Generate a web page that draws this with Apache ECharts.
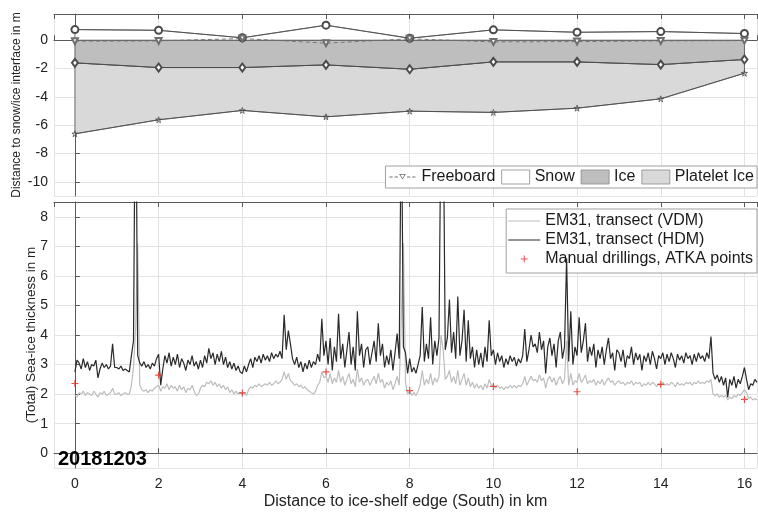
<!DOCTYPE html>
<html><head><meta charset="utf-8">
<script src="https://cdn.jsdelivr.net/npm/echarts@6/dist/echarts.min.js"></script>
<style>html,body{margin:0;padding:0;background:#fff}#c{width:758px;height:513px}</style>
</head><body><div id="c"></div><script>
// ---------- DATA ----------
// ATKA drilling points (km)
const atkaKm = [0, 2, 4, 6, 8, 10, 12, 14, 16];
// Top panel: distances to snow/ice interface (m)
const snowTop = [0.75, 0.70, 0.17, 1.06, 0.14, 0.73, 0.56, 0.61, 0.47];
const freeboard = [-0.07, -0.05, 0.12, -0.21, 0.10, -0.12, -0.10, -0.05, -0.03];
const iceSurface = [0, 0, 0, 0, 0, 0, 0, 0, 0];
const iceBottom = [-1.60, -1.93, -1.93, -1.74, -2.05, -1.53, -1.53, -1.72, -1.36];
const plateletBottom = [-6.61, -5.62, -4.96, -5.41, -5.01, -5.10, -4.80, -4.14, -2.33];
// Bottom panel: manual drillings (total thickness, m)
const drillThickness = [2.36, 2.64, 2.04, 2.75, 2.12, 2.26, 2.08, 2.33, 1.82];
// EM31 transect, sampled every 0.05 km starting at 0 km
const emStartKm = 0;
const emStepKm = 0.05;
const em31HDM = [
  2.75, 3.15, 3.05, 2.85, 3.2, 2.9, 3.1, 2.8, 3.0, 2.95, 3.15, 2.55, 2.85, 3.05, 2.9, 3.0, 2.85, 2.95, 3.7, 2.9,
  2.9, 2.85, 2.95, 2.8, 2.85, 2.8, 2.75, 3.3, 3.8, 14, 3.3, 3.05, 2.95, 3.1, 2.9, 3.0, 2.85, 3.05, 2.95, 3.2,
  3.35, 2.3, 2.85, 3.3, 3.05, 3.4, 2.95, 3.25, 3.0, 3.35, 2.9, 3.2, 3.05, 2.8, 3.15, 3.0, 3.3, 2.95, 3.1, 2.85,
  3.15, 2.9, 3.3, 3.05, 3.55, 3.2, 3.4, 3.0, 3.35, 3.1, 3.45, 3.0, 3.25, 2.9, 3.1, 2.85, 3.05, 2.8, 2.95, 2.75,
  2.7, 2.95, 2.75, 3.0, 3.2, 2.9, 3.25, 3.1, 3.3, 3.05, 3.35, 3.15, 3.3, 3.1, 3.4, 3.2, 3.35, 3.25, 3.45, 3.2,
  4.68, 3.5, 4.15, 3.7, 3.2, 3.0, 3.25, 2.9, 3.1, 2.75, 3.05, 2.85, 3.15, 2.9, 3.1, 3.0, 3.35, 3.1, 4.55, 3.3,
  3.8, 3.0, 3.9, 2.8, 3.6, 3.1, 4.72, 3.2, 3.7, 2.9, 3.5, 4.1, 3.0, 3.6, 2.8, 4.8, 3.3, 3.7, 2.9, 3.5,
  3.6, 3.0, 3.4, 3.8, 3.1, 4.4, 3.3, 3.7, 2.9, 3.3, 3.0, 3.5, 2.8, 3.4, 4.05, 3.2, 12, 3.6, 3.4, 2.7,
  3.2, 2.75, 2.9, 2.7, 3.0, 3.3, 4.95, 3.1, 3.7, 3.2, 4.6, 3.0, 3.8, 3.3, 3.9, 12, 12, 3.5, 3.9, 5.2,
  3.4, 4.1, 3.2, 5.3, 3.3, 3.8, 4.85, 3.1, 4.5, 3.2, 3.6, 2.9, 3.5, 3.0, 3.4, 2.9, 3.6, 3.1, 4.5, 3.3,
  3.5, 3.0, 3.4, 3.1, 3.3, 2.9, 3.2, 3.0, 3.3, 3.1, 3.25, 2.95, 3.2, 3.05, 3.3, 4.2, 3.1, 3.5, 4.0, 3.6,
  3.7, 3.4, 4.1, 3.5, 3.8, 2.7, 3.6, 3.9, 3.3, 3.7, 2.9, 3.8, 4.1, 3.2, 3.6, 6.6, 3.1, 4.8, 3.0, 3.6,
  3.3, 4.6, 3.4, 3.8, 4.4, 3.1, 3.6, 3.3, 3.7, 2.9, 3.5, 3.2, 3.6, 3.0, 3.5, 3.9, 3.2, 3.4, 2.8, 3.5,
  3.4, 3.1, 3.5, 2.9, 3.3, 3.2, 3.6, 3.0, 3.4, 3.15, 3.35, 2.8, 3.3, 3.1, 3.4, 3.0, 3.45, 3.2, 2.85, 3.3,
  3.2, 3.4, 3.0, 3.35, 3.1, 3.4, 3.2, 2.9, 3.35, 3.15, 3.3, 3.05, 3.4, 3.2, 3.3, 3.0, 3.35, 3.1, 3.4, 3.2,
  3.3, 3.1, 3.4, 3.2, 3.95, 2.7, 2.5, 2.65, 2.4, 2.6, 2.3, 2.55, 1.9, 2.5, 2.3, 2.6, 2.2, 2.5, 2.35, 2.6,
  2.9, 2.5, 2.15, 2.35, 2.3, 2.5, 2.4
];
const em31VDM = [
  1.95, 1.9, 2.05, 2.0, 2.1, 1.95, 2.05, 2.0, 1.95, 2.1, 2.0, 1.9, 2.05, 2.0, 2.1, 1.95, 2.0, 2.05, 2.2, 2.0,
  2.0, 2.05, 1.95, 2.0, 2.05, 2.0, 2.0, 2.3, 2.9, 4.2, 7.1, 2.3, 2.15, 2.1, 2.15, 2.05, 2.15, 2.1, 2.2, 2.25,
  2.3, 2.1, 2.25, 2.2, 2.35, 2.15, 2.3, 2.2, 2.25, 2.1, 2.3, 2.15, 2.25, 2.05, 2.2, 2.15, 2.3, 2.1, 1.95, 2.0,
  2.2, 2.3, 2.25, 2.4, 2.35, 2.45, 2.3, 2.4, 2.25, 2.35, 2.2, 2.3, 2.15, 2.25, 2.05, 2.15, 2.0, 2.1, 2.0, 2.05,
  2.0, 2.05, 1.95, 2.15, 2.25, 2.2, 2.3, 2.25, 2.35, 2.25, 2.3, 2.35, 2.3, 2.4, 2.3, 2.35, 2.45, 2.35, 2.4, 2.5,
  2.75, 2.5, 2.7, 2.45, 2.4, 2.3, 2.35, 2.25, 2.3, 2.2, 2.25, 2.15, 2.1, 2.05, 2.0, 2.1, 2.3, 2.4, 2.75, 2.55,
  2.6, 2.4, 2.7, 2.35, 2.55, 2.4, 2.8, 2.4, 2.6, 2.3, 2.5, 2.7, 2.35, 2.5, 2.25, 2.85, 2.4, 2.55, 2.3, 2.45,
  2.5, 2.3, 2.45, 2.6, 2.35, 2.7, 2.4, 2.5, 2.2, 2.4, 2.3, 2.45, 2.15, 2.35, 2.6, 2.3, 4.5, 7.1, 2.4, 2.0,
  2.1, 1.95, 2.05, 1.95, 2.1, 2.3, 2.8, 2.3, 2.5, 2.35, 2.7, 2.3, 2.55, 2.4, 2.6, 4.0, 3.5, 2.5, 2.6, 2.8,
  2.4, 2.6, 2.35, 2.8, 2.3, 2.5, 2.7, 2.3, 2.55, 2.25, 2.4, 2.2, 2.35, 2.2, 2.3, 2.15, 2.35, 2.2, 2.5, 2.3,
  2.3, 2.2, 2.3, 2.2, 2.25, 2.15, 2.25, 2.2, 2.3, 2.2, 2.3, 2.2, 2.3, 2.25, 2.35, 2.6, 2.3, 2.45, 2.6, 2.45,
  2.5, 2.4, 2.65, 2.45, 2.55, 2.2, 2.5, 2.6, 2.4, 2.55, 2.3, 2.5, 2.6, 2.35, 2.5, 3.8, 2.3, 2.7, 2.3, 2.45,
  2.4, 2.7, 2.4, 2.5, 2.65, 2.35, 2.45, 2.4, 2.5, 2.3, 2.45, 2.35, 2.5, 2.3, 2.45, 2.55, 2.4, 2.45, 2.3, 2.4,
  2.45, 2.35, 2.4, 2.3, 2.4, 2.35, 2.45, 2.3, 2.4, 2.35, 2.4, 2.25, 2.35, 2.3, 2.4, 2.3, 2.4, 2.35, 2.25, 2.35,
  2.3, 2.4, 2.3, 2.35, 2.3, 2.4, 2.35, 2.25, 2.4, 2.3, 2.35, 2.3, 2.4, 2.35, 2.4, 2.3, 2.4, 2.35, 2.45, 2.35,
  2.4, 2.35, 2.45, 2.4, 2.5, 2.0, 1.95, 2.0, 1.9, 1.95, 1.9, 1.95, 1.8, 1.9, 1.85, 1.95, 1.9, 2.0, 1.95, 2.05,
  2.15, 2.05, 1.85, 1.9, 1.8, 1.85, 1.8
];
const dateLabel = '20181203';

// ---------- CHART ----------
const FONT = '"Liberation Sans", Arial, Helvetica, sans-serif';
const chart = echarts.init(document.getElementById('c'), null, {renderer: 'canvas'});
const pairs = (xs, ys) => xs.map((x, i) => [x, ys[i]]);
const emKm = i => +(emStartKm + i * emStepKm).toFixed(2);
const edge = '#4a4a4a';

function layerPolygon(name, upper, lower, fill) {
  return {
    type: 'custom', name, xAxisIndex: 0, yAxisIndex: 0, data: [0], silent: true, z: 2,
    itemStyle: {color: fill},
    renderItem: (params, api) => {
      const pts = [];
      for (let i = 0; i < atkaKm.length; i++) pts.push(api.coord([atkaKm[i], upper[i]]));
      for (let i = atkaKm.length - 1; i >= 0; i--) pts.push(api.coord([atkaKm[i], lower[i]]));
      return {type: 'polygon', shape: {points: pts}, style: {fill, stroke: edge, lineWidth: 0.8}};
    }
  };
}

const starPath = 'path://M5,0 L6.2,3.6 L10,3.6 L6.9,5.8 L8.1,9.5 L5,7.2 L1.9,9.5 L3.1,5.8 L0,3.6 L3.8,3.6 Z';
const plusPath = 'path://M3,0h1.2v3h3v1.2h-3v3h-1.2v-3h-3v-1.2h3z';
// legend icons (tiny corner dots keep the icon box size)
const plusLegendPath = 'path://M0,0h0.01v0.01h-0.01z M32,16h-0.01v-0.01h0.01z M15.5,4.6h1v2.9h2.9v1h-2.9v2.9h-1v-2.9h-2.9v-1h2.9z';
const lineLegendPath = 'path://M0,7.5h32v1h-32z M0,0h0.01v0.01h-0.01z M32,16h-0.01v-0.01h0.01z';
const freeboardLegendPath = 'path://M0,0h0.01v0.01h-0.01z M28,14h-0.01v-0.01h0.01z ' +
  'M1,6.6h3.2v0.9h-3.2z M6.2,6.6h3.2v0.9h-3.2z M18.6,6.6h3.2v0.9h-3.2z M23.8,6.6h3.2v0.9h-3.2z ' +
  'M10.6,4 L17.4,4 L14,9.6 Z M11.9,4.7 L14,8.2 L16.1,4.7 Z';

const labelStyle = {fontFamily: FONT, fontSize: 14, color: '#222'};
const axisLineStyle = {lineStyle: {color: '#5a5a5a', width: 1}};
const tickStyle = {inside: true, length: 5, lineStyle: {color: '#5a5a5a'}};
const gridLine = {show: true, lineStyle: {color: '#e3e3e3', width: 1}};

function xAxisFor(grid, labeled) {
  return {
    gridIndex: grid, type: 'value', min: -0.5, max: 16.3, splitNumber: 8,
    axisLine: axisLineStyle, axisTick: tickStyle, splitLine: gridLine,
    axisLabel: labeled ? Object.assign({margin: 9, showMinLabel: false, showMaxLabel: false}, labelStyle) : {show: false},
    name: labeled ? 'Distance to ice-shelf edge (South) in km' : '',
    nameLocation: 'middle', nameGap: 26, nameMoveOverlap: false,
    nameTextStyle: {fontFamily: FONT, fontSize: 16, color: '#222'}
  };
}
function xTopFor(grid) {
  return {
    gridIndex: grid, type: 'value', position: 'top', min: -0.5, max: 16.3, splitNumber: 8,
    axisLine: axisLineStyle, axisTick: tickStyle, splitLine: {show: false}, axisLabel: {show: false}
  };
}

const option = {
  animation: false,
  backgroundColor: '#fff',
  grid: [
    {left: 54, top: 14, width: 703, height: 182, outerBoundsMode: 'none'},
    {left: 54, top: 202, width: 703, height: 266, outerBoundsMode: 'none'}
  ],
  xAxis: [xAxisFor(0, false), xAxisFor(1, true), xTopFor(0), xTopFor(1)],
  yAxis: [
    {
      gridIndex: 0, type: 'value', min: -11, max: 1.85, splitNumber: 6,
      axisLine: axisLineStyle, axisTick: tickStyle, splitLine: gridLine,
      axisLabel: Object.assign({margin: 6, showMinLabel: false, showMaxLabel: false}, labelStyle),
      name: 'Distance to snow/ice interface in m', nameLocation: 'middle', nameGap: 31, nameMoveOverlap: false,
      nameTextStyle: {fontFamily: FONT, fontSize: 12, color: '#222'}
    },
    {
      gridIndex: 1, type: 'value', min: -0.5, max: 8.5, splitNumber: 9,
      axisLine: axisLineStyle, axisTick: tickStyle, splitLine: gridLine,
      axisLabel: Object.assign({margin: 6, showMinLabel: false, showMaxLabel: false}, labelStyle),
      name: '(Total) Sea-ice thickness in m', nameLocation: 'middle', nameGap: 16, nameMoveOverlap: false,
      nameTextStyle: {fontFamily: FONT, fontSize: 13.5, color: '#222'}
    }
  ],
  legend: [
    {
      selectedMode: false, top: 166, right: 1, orient: 'horizontal',
      itemWidth: 28, itemHeight: 14, itemGap: 6, padding: [3, 3],
      backgroundColor: '#fff', borderColor: '#a0a0a0', borderWidth: 1,
      textStyle: {fontFamily: FONT, fontSize: 16, color: '#1a1a1a'},
      data: [
        {name: 'Freeboard', icon: freeboardLegendPath, itemStyle: {color: '#6e6e6e', borderWidth: 0}},
        {name: 'Snow', icon: 'rect', itemStyle: {color: '#ffffff', borderColor: '#8a8a8a', borderWidth: 0.8}},
        {name: 'Ice', icon: 'rect', itemStyle: {color: '#bebebe', borderColor: '#8a8a8a', borderWidth: 0.8}},
        {name: 'Platelet Ice', icon: 'rect', itemStyle: {color: '#d9d9d9', borderColor: '#8a8a8a', borderWidth: 0.8}}
      ]
    },
    {
      selectedMode: false, top: 209, right: 1, orient: 'vertical',
      itemWidth: 32, itemHeight: 16, itemGap: 3, padding: [4, 4, 6, 2],
      backgroundColor: '#fff', borderColor: '#a0a0a0', borderWidth: 1,
      textStyle: {fontFamily: FONT, fontSize: 16, color: '#1a1a1a'},
      data: [
        {name: 'EM31, transect (VDM)', icon: lineLegendPath, itemStyle: {color: '#bdbdbd', borderWidth: 0}},
        {name: 'EM31, transect (HDM)', icon: lineLegendPath, itemStyle: {color: '#2a2a2a', borderWidth: 0}},
        {name: 'Manual drillings, ATKA points', icon: plusLegendPath, itemStyle: {color: '#e8231c', borderWidth: 0}}
      ]
    }
  ],
  graphic: [{
    type: 'text', left: 58, top: 449, z: 100,
    style: {text: dateLabel, font: 'bold 20px ' + FONT, fill: '#000'}
  }],
  series: [
    layerPolygon('Platelet Ice', iceBottom, plateletBottom, '#d9d9d9'),
    layerPolygon('Ice', iceSurface, iceBottom, '#bebebe'),
    layerPolygon('Snow', snowTop, iceSurface, '#ffffff'),
    {
      type: 'line', name: 'plateletMarks', xAxisIndex: 0, yAxisIndex: 0, z: 3,
      data: pairs(atkaKm, plateletBottom), symbol: starPath, symbolSize: 6,
      lineStyle: {color: edge, width: 0.8}, itemStyle: {color: 'transparent', borderColor: edge, borderWidth: 0.8}
    },
    {
      type: 'line', name: 'iceMarks', xAxisIndex: 0, yAxisIndex: 0, z: 3,
      data: pairs(atkaKm, iceBottom), symbol: 'emptyDiamond', symbolSize: [6, 8],
      lineStyle: {color: edge, width: 0.8}, itemStyle: {color: edge, borderWidth: 0.8}
    },
    {
      type: 'line', name: 'snowMarks', xAxisIndex: 0, yAxisIndex: 0, z: 3,
      data: pairs(atkaKm, snowTop), symbol: 'emptyCircle', symbolSize: 7,
      lineStyle: {color: edge, width: 0.8}, itemStyle: {color: edge, borderWidth: 0.8}
    },
    {
      type: 'line', name: 'Freeboard', xAxisIndex: 0, yAxisIndex: 0, z: 4,
      data: pairs(atkaKm, freeboard), symbol: 'emptyTriangle', symbolRotate: 180, symbolSize: 6,
      lineStyle: {color: '#6e6e6e', width: 0.9, type: [4, 3]}, itemStyle: {color: '#6e6e6e', borderWidth: 0.8}
    },
    {
      type: 'line', name: 'EM31, transect (VDM)', xAxisIndex: 1, yAxisIndex: 1, z: 3,
      data: em31VDM.map((v, i) => [emKm(i), v]), symbol: 'none',
      lineStyle: {color: '#bdbdbd', width: 1.2}, itemStyle: {color: '#bdbdbd'}
    },
    {
      type: 'line', name: 'EM31, transect (HDM)', xAxisIndex: 1, yAxisIndex: 1, z: 4,
      data: em31HDM.map((v, i) => [emKm(i), v]), symbol: 'none',
      lineStyle: {color: '#2a2a2a', width: 1.2}, itemStyle: {color: '#2a2a2a'}
    },
    {
      type: 'scatter', name: 'Manual drillings, ATKA points', xAxisIndex: 1, yAxisIndex: 1, z: 5,
      data: pairs(atkaKm, drillThickness), symbol: plusPath, symbolSize: 7,
      itemStyle: {color: '#e8231c'}
    }
  ]
};
chart.setOption(option);
</script></body></html>
